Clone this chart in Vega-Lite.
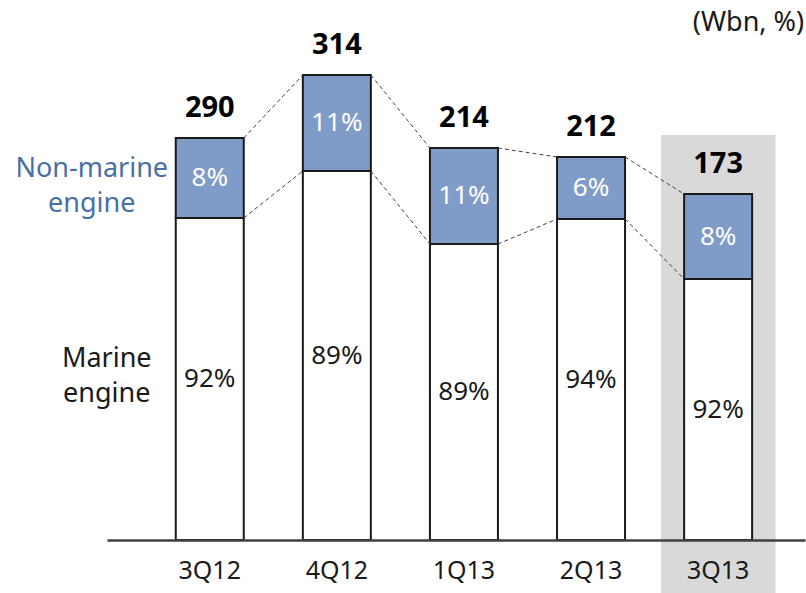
{
  "$schema": "https://vega.github.io/schema/vega-lite/v6.json",
  "width": 806,
  "height": 540,
  "autosize": {"type": "none"},
  "padding": {"left": 0, "top": 0, "right": 0, "bottom": 53},
  "background": "white",
  "config": {"view": {"stroke": null}, "font": "Noto Sans"},
  "data": {"values": [
    {"q": "3Q12", "total": 290, "marine_h": 322, "top_h": 402, "mp": "92%", "np": "8%"},
    {"q": "4Q12", "total": 314, "marine_h": 369, "top_h": 465, "mp": "89%", "np": "11%"},
    {"q": "1Q13", "total": 214, "marine_h": 296, "top_h": 392, "mp": "89%", "np": "11%"},
    {"q": "2Q13", "total": 212, "marine_h": 321, "top_h": 383, "mp": "94%", "np": "6%"},
    {"q": "3Q13", "total": 173, "marine_h": 261, "top_h": 346, "mp": "92%", "np": "8%"}
  ]},
  "encoding": {
    "x": {
      "field": "q", "type": "nominal", "sort": null,
      "scale": {"domain": ["3Q12", "4Q12", "1Q13", "2Q13", "3Q13"], "range": [107, 805], "paddingInner": 0, "paddingOuter": 0.246, "align": 0.627},
      "axis": {"title": null, "labelAngle": 0, "ticks": false, "domain": true, "domainColor": "#404040", "domainWidth": 2.5, "labelFontSize": 25, "labelColor": "#1a1a1a", "labelPadding": 18, "labelFont": "Noto Sans", "zindex": 1}
    }
  },
  "layer": [
    {
      "mark": {"type": "bar", "width": 114, "color": "#d9d9d9"},
      "encoding": {
        "x": {"datum": "3Q13", "type": "nominal"},
        "y": {"datum": 405, "type": "quantitative", "scale": {"domain": [0, 540], "nice": false, "zero": false}, "axis": null},
        "y2": {"datum": -53}
      }
    },
    {
      "mark": {"type": "bar", "width": 68, "fill": "white", "stroke": "#1a1a1a", "strokeWidth": 2},
      "encoding": {
        "y": {"field": "marine_h", "type": "quantitative"}
      }
    },
    {
      "mark": {"type": "bar", "width": 68, "fill": "#7f9bc8", "stroke": "#1a1a1a", "strokeWidth": 2},
      "encoding": {
        "y": {"field": "top_h", "type": "quantitative"},
        "y2": {"field": "marine_h"}
      }
    },
    {
      "transform": [
        {"window": [{"op": "lead", "field": "q", "as": "next_q"}, {"op": "lead", "field": "top_h", "as": "next_top"}, {"op": "lead", "field": "marine_h", "as": "next_marine"}]},
        {"filter": "datum.next_q != null"}
      ],
      "layer": [
        {
          "mark": {"type": "rule", "xOffset": 34, "x2Offset": -34, "stroke": "#404040", "strokeWidth": 1, "strokeDash": [4, 3]},
          "encoding": {"x2": {"field": "next_q"}, "y": {"field": "top_h", "type": "quantitative"}, "y2": {"field": "next_top"}}
        },
        {
          "mark": {"type": "rule", "xOffset": 34, "x2Offset": -34, "stroke": "#404040", "strokeWidth": 1, "strokeDash": [4, 3]},
          "encoding": {"x2": {"field": "next_q"}, "y": {"field": "marine_h", "type": "quantitative"}, "y2": {"field": "next_marine"}}
        }
      ]
    },
    {
      "transform": [{"calculate": "(datum.top_h + datum.marine_h) / 2", "as": "mid_n"}],
      "mark": {"type": "text", "fontSize": 26, "color": "white", "baseline": "middle"},
      "encoding": {"y": {"field": "mid_n", "type": "quantitative"}, "text": {"field": "np"}}
    },
    {
      "transform": [{"calculate": "datum.marine_h / 2", "as": "mid_m"}],
      "mark": {"type": "text", "fontSize": 26, "color": "#1a1a1a", "baseline": "middle"},
      "encoding": {"y": {"field": "mid_m", "type": "quantitative"}, "text": {"field": "mp"}}
    },
    {
      "mark": {"type": "text", "fontSize": 29, "fontWeight": "bold", "color": "black", "baseline": "middle", "dy": -30},
      "encoding": {"y": {"field": "top_h", "type": "quantitative"}, "text": {"field": "total"}}
    },
    {
      "transform": [{"filter": "datum.q == '3Q12'"}],
      "mark": {"type": "text", "fontSize": 27, "color": "#4a6fa5", "align": "center", "baseline": "middle", "dx": -118, "lineHeight": 35},
      "encoding": {"y": {"datum": 371, "type": "quantitative"}, "text": {"value": ["Non-marine", "engine"]}}
    },
    {
      "transform": [{"filter": "datum.q == '3Q12'"}],
      "mark": {"type": "text", "fontSize": 27, "color": "#1a1a1a", "align": "center", "baseline": "middle", "dx": -103, "lineHeight": 35},
      "encoding": {"y": {"datum": 181, "type": "quantitative"}, "text": {"value": ["Marine", "engine"]}}
    },
    {
      "transform": [{"filter": "datum.q == '3Q13'"}],
      "mark": {"type": "text", "fontSize": 27, "color": "#1a1a1a", "align": "right", "baseline": "middle", "dx": 86},
      "encoding": {"y": {"datum": 517, "type": "quantitative"}, "text": {"value": "(Wbn, %)"}}
    }
  ]
}
